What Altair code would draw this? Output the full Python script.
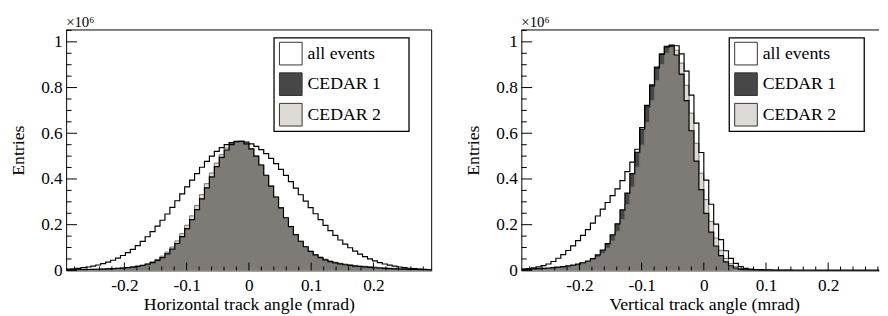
import altair as alt
import pandas as pd

# ---------------- data (entries in units of 1e6, one value per bin) ----------------
X_LO, X_HI, N_BINS = -0.2935, 0.2935, 74

SERIES = ["all events", "CEDAR 1", "CEDAR 2"]

H_ALL = [0.0054, 0.0070, 0.0091, 0.0117, 0.0148, 0.0187, 0.0235, 0.0293, 0.0362, 0.0443,
         0.0538, 0.0650, 0.0776, 0.0922, 0.1085, 0.1270, 0.1472, 0.1693, 0.1937, 0.2194,
         0.2466, 0.2754, 0.3048, 0.3347, 0.3651, 0.3948, 0.4236, 0.4514, 0.4769, 0.5000,
         0.5204, 0.5372, 0.5503, 0.5594, 0.5642, 0.5650, 0.5612, 0.5538, 0.5428, 0.5284,
         0.5106, 0.4901, 0.4673, 0.4421, 0.4156, 0.3881, 0.3596, 0.3310, 0.3027, 0.2749,
         0.2479, 0.2220, 0.1973, 0.1742, 0.1529, 0.1330, 0.1150, 0.0989, 0.0842, 0.0713,
         0.0600, 0.0500, 0.0415, 0.0343, 0.0280, 0.0227, 0.0184, 0.0147, 0.0117, 0.0093,
         0.0073, 0.0057, 0.0044, 0.0034]
H_C1 = [0.0022, 0.0025, 0.0029, 0.0034, 0.0039, 0.0045, 0.0051, 0.0058, 0.0067, 0.0076,
        0.0088, 0.0102, 0.0120, 0.0143, 0.0174, 0.0215, 0.0269, 0.0340, 0.0438, 0.0562,
        0.0723, 0.0927, 0.1175, 0.1474, 0.1827, 0.2221, 0.2659, 0.3132, 0.3614, 0.4090,
        0.4544, 0.4942, 0.5267, 0.5502, 0.5629, 0.5650, 0.5533, 0.5317, 0.5002, 0.4612,
        0.4162, 0.3689, 0.3210, 0.2738, 0.2304, 0.1913, 0.1567, 0.1275, 0.1033, 0.0835,
        0.0679, 0.0556, 0.0460, 0.0385, 0.0328, 0.0282, 0.0246, 0.0216, 0.0190, 0.0169,
        0.0150, 0.0131, 0.0116, 0.0103, 0.0091, 0.0080, 0.0070, 0.0061, 0.0053, 0.0045,
        0.0039, 0.0033, 0.0028, 0.0024]
H_C2 = [0.0023, 0.0027, 0.0031, 0.0036, 0.0041, 0.0047, 0.0054, 0.0061, 0.0070, 0.0081,
        0.0093, 0.0109, 0.0129, 0.0155, 0.0190, 0.0236, 0.0296, 0.0377, 0.0485, 0.0623,
        0.0801, 0.1021, 0.1289, 0.1608, 0.1977, 0.2387, 0.2839, 0.3315, 0.3795, 0.4263,
        0.4695, 0.5065, 0.5356, 0.5550, 0.5637, 0.5640, 0.5533, 0.5317, 0.5002, 0.4612,
        0.4162, 0.3689, 0.3210, 0.2738, 0.2304, 0.1913, 0.1567, 0.1275, 0.1033, 0.0835,
        0.0679, 0.0586, 0.0490, 0.0415, 0.0358, 0.0312, 0.0276, 0.0246, 0.0220, 0.0199,
        0.0180, 0.0161, 0.0146, 0.0123, 0.0111, 0.0100, 0.0090, 0.0081, 0.0073, 0.0065,
        0.0059, 0.0053, 0.0038, 0.0030]

V_ALL = [0.006, 0.008, 0.011, 0.015, 0.021, 0.028, 0.039, 0.053, 0.069, 0.087,
         0.107, 0.130, 0.153, 0.178, 0.207, 0.238, 0.268, 0.297, 0.327, 0.357,
         0.393, 0.432, 0.474, 0.530, 0.625, 0.722, 0.812, 0.890, 0.947, 0.980,
         0.986, 0.983, 0.9475, 0.8716, 0.7666, 0.6442, 0.5157, 0.3953, 0.2895, 0.2025,
         0.1347, 0.0860, 0.0525, 0.0304, 0.0169, 0.0090, 0.0055, 0.0040, 0.0030, 0.0024,
         0.0019, 0.0015, 0.0012, 0.0010, 0.0008, 0.0007, 0.0006, 0.0006, 0.0005, 0.0005,
         0.0004, 0.0004, 0.0004, 0.0003, 0.0003, 0.0003, 0.0003, 0.0002, 0.0002, 0.0002,
         0.0002, 0.0002, 0.0002, 0.0001]
V_C1 = [0.0044, 0.0053, 0.0063, 0.0075, 0.0088, 0.0104, 0.0121, 0.0142, 0.0166, 0.0194,
        0.0229, 0.0274, 0.0333, 0.0412, 0.0521, 0.0676, 0.0886, 0.1170, 0.1553, 0.2039,
        0.2647, 0.3384, 0.4233, 0.5168, 0.6175, 0.7161, 0.8074, 0.8864, 0.9446, 0.9781,
        0.9825, 0.9424, 0.8591, 0.7427, 0.6111, 0.4778, 0.3536, 0.2495, 0.1674, 0.1067,
        0.0642, 0.0369, 0.0202, 0.0104, 0.0051, 0.0024, 0.0011, 0.0006, 0.0004, 0.0003,
        0.0002, 0.0002, 0.0001, 0.0001, 0.0001, 0.0001, 0.0, 0.0, 0.0, 0.0,
        0.0, 0.0, 0.0, 0.0, 0.0, 0.0, 0.0, 0.0, 0.0, 0.0,
        0.0, 0.0, 0.0, 0.0]
V_C2 = [0.0039, 0.0047, 0.0056, 0.0067, 0.0079, 0.0093, 0.0110, 0.0128, 0.0150, 0.0176,
        0.0206, 0.0245, 0.0293, 0.0358, 0.0447, 0.0572, 0.0741, 0.0974, 0.1290, 0.1705,
        0.2227, 0.2883, 0.3650, 0.4523, 0.5486, 0.6470, 0.7429, 0.8304, 0.9011, 0.9503,
        0.9750, 0.9635, 0.9070, 0.8101, 0.6883, 0.5560, 0.4251, 0.3098, 0.2145, 0.1413,
        0.0878, 0.0522, 0.0294, 0.0157, 0.0080, 0.0039, 0.0018, 0.0008, 0.0005, 0.0003,
        0.0002, 0.0002, 0.0001, 0.0001, 0.0001, 0.0001, 0.0, 0.0, 0.0, 0.0,
        0.0, 0.0, 0.0, 0.0, 0.0, 0.0, 0.0, 0.0, 0.0, 0.0,
        0.0, 0.0, 0.0, 0.0]

Y_MAJOR = [0, 0.2, 0.4, 0.6, 0.8, 1.0]
Y_MINOR = [0.05, 0.1, 0.15, 0.25, 0.3, 0.35, 0.45, 0.5, 0.55, 0.65, 0.7, 0.75,
           0.85, 0.9, 0.95, 1.05]
X_MAJOR = [-0.2, -0.1, 0, 0.1, 0.2]
X_MINOR = [-0.28, -0.26, -0.24, -0.22, -0.18, -0.16, -0.14, -0.12, -0.08, -0.06,
           -0.04, -0.02, 0.02, 0.04, 0.06, 0.08, 0.12, 0.14, 0.16, 0.18,
           0.22, 0.24, 0.26, 0.28]

# ---------------- style ----------------
FONT = "Liberation Serif"
FILLS = ["#ffffff", "#474747", "#dedbd6"]
OVERLAP = "#7e7a76"
Y_MAX = 1.052
PLOT_H = 244
LEFT_W = 371
RIGHT_W = 363
RIGHT_X_HI = 0.2818
LEG_X, LEG_Y, LEG_W, LEG_H = 211, 8, 137, 95


def steps(vals, name):
    w = (X_HI - X_LO) / N_BINS
    xs = [X_LO + i * w for i in range(N_BINS + 1)]
    vs = list(vals) + [vals[-1]]
    return pd.DataFrame({"x": xs, "v": vs, "series": name})


def panel(ae, c1, c2, W, xhi, xtitle, framed_right):
    xs = alt.Scale(domain=[X_LO, xhi], nice=False, zero=False)
    ys = alt.Scale(domain=[0, Y_MAX], nice=False, zero=False)
    xaxis = alt.Axis(values=X_MAJOR,
                     labelExpr="datum.value < 0 ? '-' + format(-datum.value, '.1~f') : format(datum.value, '.1~f')",
                     title=xtitle, ticks=False, tickSize=0, grid=False,
                     domainColor="black", domainWidth=1,
                     labelFont=FONT, labelFontSize=17.5, labelColor="black", labelPadding=6,
                     labelFlush=False,
                     titleFont=FONT, titleFontSize=18, titleFontWeight="normal",
                     titleColor="black", titlePadding=2, titleX=185.5)
    yaxis = alt.Axis(values=Y_MAJOR, format=".1~f", title="Entries", ticks=False, tickSize=0,
                     grid=False, domainColor="black", domainWidth=1,
                     labelFont=FONT, labelFontSize=17.5, labelColor="black", labelPadding=4,
                     minExtent=27, maxExtent=27,
                     titleFont=FONT, titleFontSize=18, titleFontWeight="normal",
                     titleColor="black", titlePadding=12)
    fill_scale = alt.Scale(domain=SERIES, range=FILLS)
    legend = alt.Legend(title=None, orient="none", legendX=LEG_X, legendY=LEG_Y - 1,
                        direction="vertical", symbolType="square", symbolSize=529,
                        symbolStrokeColor="#333333", symbolStrokeWidth=1,
                        labelFont=FONT, labelFontSize=18, labelColor="black",
                        labelOffset=5, rowPadding=3, padding=5)
    X = alt.X("x:Q", scale=xs, axis=xaxis)
    Y = alt.Y("v:Q", scale=ys, axis=yaxis)
    F = alt.Fill("series:N", scale=fill_scale, legend=legend)

    d_ae = steps(ae, SERIES[0])
    d_c1 = steps(c1, SERIES[1])
    d_c2 = steps(c2, SERIES[2])
    d_ov = steps([min(a, b) for a, b in zip(c1, c2)], "overlap")

    def area(df):
        return alt.Chart(df).mark_area(interpolate="step-after", clip=True).encode(x=X, y=Y, fill=F)

    area_ov = alt.Chart(d_ov).mark_area(interpolate="step-after", clip=True,
                                         color=OVERLAP).encode(x=X, y=Y)

    def line(df, color, width):
        return alt.Chart(df).mark_line(interpolate="step-after", clip=True,
                                       color=color, strokeWidth=width).encode(x=X, y=Y)

    yt_major = alt.Chart(pd.DataFrame({"v": Y_MAJOR})).mark_rule(color="black", strokeWidth=1).encode(
        y=Y, x=alt.value(0), x2=alt.value(11))
    yt_minor = alt.Chart(pd.DataFrame({"v": Y_MINOR})).mark_rule(color="black", strokeWidth=1).encode(
        y=Y, x=alt.value(0), x2=alt.value(5.5))
    xt_major = alt.Chart(pd.DataFrame({"x": X_MAJOR})).mark_rule(color="black", strokeWidth=1).encode(
        x=X, y=alt.value(PLOT_H), y2=alt.value(PLOT_H - 8))
    xt_minor = alt.Chart(pd.DataFrame({"x": X_MINOR})).mark_rule(color="black", strokeWidth=1).encode(
        x=X, y=alt.value(PLOT_H), y2=alt.value(PLOT_H - 4))
    frame = pd.DataFrame({"k": [0]})
    top = alt.Chart(frame).mark_rule(color="black", strokeWidth=1).encode(
        x=alt.value(0), x2=alt.value(W), y=alt.value(0))
    legbox = alt.Chart(frame).mark_rect(fill="white", stroke="black", strokeWidth=1.3).encode(
        x=alt.value(LEG_X), x2=alt.value(LEG_X + LEG_W),
        y=alt.value(LEG_Y), y2=alt.value(LEG_Y + LEG_H))
    layers = [area(d_ae), area(d_c1), area(d_c2), area_ov,
              line(d_c2, "#707070", 1.0), line(d_c1, "black", 1.2), line(d_ae, "black", 1.2),
              yt_major, yt_minor, xt_major, xt_minor, top, legbox]
    if framed_right:
        layers.append(alt.Chart(frame).mark_rule(color="black", strokeWidth=1).encode(
            x=alt.value(W), y=alt.value(0), y2=alt.value(PLOT_H)))
    return alt.layer(*layers).properties(
        width=W, height=PLOT_H,
        title=alt.TitleParams("×10⁶", anchor="start", frame="group", font=FONT, fontSize=15,
                              fontWeight="normal", color="black", offset=-12,
                              baseline="alphabetic"))


left = panel(H_ALL, H_C1, H_C2, LEFT_W, X_HI, "Horizontal track angle (mrad)", True)
right = panel(V_ALL, V_C1, V_C2, RIGHT_W, RIGHT_X_HI, "Vertical track angle (mrad)", False)

chart = alt.hconcat(left, right, spacing=33).resolve_scale(
    x="independent", y="independent", fill="independent"
).resolve_legend(fill="independent").properties(
    padding={"left": 2, "top": 4, "right": 0, "bottom": 0}, background="white"
).configure_view(stroke=None).configure_axis(
    labelFont=FONT, titleFont=FONT, labelFontSize=17.5, titleFontSize=18,
    titleFontWeight="normal", labelColor="black", titleColor="black"
).configure_legend(labelFont=FONT, labelFontSize=18).configure_title(font=FONT)

chart.save("out.html", embed_options={"renderer": "svg", "actions": False})
